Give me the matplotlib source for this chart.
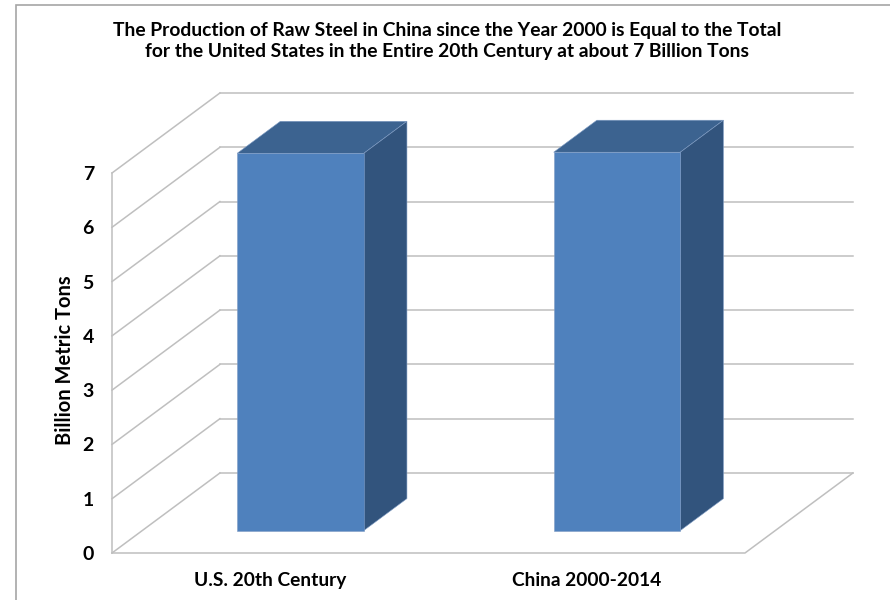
import matplotlib.pyplot as plt
from matplotlib.patches import Polygon, Rectangle

categories = ["U.S. 20th Century", "China 2000-2014"]
values = [6.95, 6.97]
y_ticks = [0, 1, 2, 3, 4, 5, 6, 7]
title = ("The Production of Raw Steel in China since the Year 2000 is Equal to the Total\n"
         "for the United States in the Entire 20th Century at about 7 Billion Tons")
y_label = "Billion Metric Tons"

plt.rcParams["font.family"] = ["Lato", "DejaVu Sans"]

# oblique offset of the back wall, in data units (x per category, y per ton)
DX, DY = 0.341, 1.474
BAR_W = 0.4
BAR_D0, BAR_D1 = 0.28, 0.68
GRID = "#BFBFBF"
FRONT, TOP, SIDE = "#4F81BD", "#3C6390", "#32547D"


def proj(x, v, d):
    return (x + d * DX, v + d * DY)


fig = plt.figure(figsize=(8.9, 6), dpi=100)
fig.patches.append(Rectangle((16 / 890, -0.1), 1.2, (595 / 600) + 0.1, transform=fig.transFigure,
                             fill=False, edgecolor="#A6A6A6", lw=1.2))
ax = fig.add_axes([112 / 890, 47 / 600, 633 / 890, 380 / 600])
ax.set_xlim(0, len(categories))
ax.set_ylim(0, 7)
for s in ax.spines.values():
    s.set_visible(False)

line_kw = dict(color=GRID, lw=1.1, clip_on=False, zorder=1)

# back wall gridlines and left wall diagonals
for v in y_ticks:
    (x0, y0), (x1, y1) = proj(0, v, 1), proj(len(categories), v, 1)
    ax.plot([x0, x1], [y0, y1], **line_kw)
    (x0, y0), (x1, y1) = proj(0, v, 0), proj(0, v, 1)
    ax.plot([x0, x1], [y0, y1], **line_kw)
ax.plot([0, 0], [0, 7], **line_kw)

# floor outline
floor = [proj(0, 0, 0), proj(len(categories), 0, 0), proj(len(categories), 0, 1)]
ax.plot([p[0] for p in floor], [p[1] for p in floor], **line_kw)

# 3D bars: top, side, then front face
for i, val in enumerate(values):
    xl = i + 0.5 - BAR_W / 2
    xr = i + 0.5 + BAR_W / 2
    top = [proj(xl, val, BAR_D0), proj(xr, val, BAR_D0), proj(xr, val, BAR_D1), proj(xl, val, BAR_D1)]
    side = [proj(xr, 0, BAR_D0), proj(xr, 0, BAR_D1), proj(xr, val, BAR_D1), proj(xr, val, BAR_D0)]
    front = [proj(xl, 0, BAR_D0), proj(xr, 0, BAR_D0), proj(xr, val, BAR_D0), proj(xl, val, BAR_D0)]
    for pts, col in ((top, TOP), (side, SIDE), (front, FRONT)):
        ax.add_patch(Polygon(pts, closed=True, facecolor=col, edgecolor="#7F9CC4",
                             lw=0.4, clip_on=False, zorder=3))

ax.set_yticks(y_ticks)
ax.set_yticklabels([str(t) for t in y_ticks], fontsize=14, fontweight="bold")
ax.set_xticks([i + 0.5 for i in range(len(categories))])
ax.set_xticklabels(categories, fontsize=13.8, fontweight="bold")
ax.tick_params(axis="y", length=0, pad=13)
ax.tick_params(axis="x", length=0, pad=14)

fig.text(65 / 890, 240 / 600, y_label, rotation=90, ha="center", va="center",
         fontsize=14.5, fontweight="bold")
fig.text(447 / 890, 1 - 41 / 600, title, ha="center", va="center", fontsize=13.9,
         fontweight="bold", linespacing=1.3)

fig.savefig("out.png", dpi=100)
